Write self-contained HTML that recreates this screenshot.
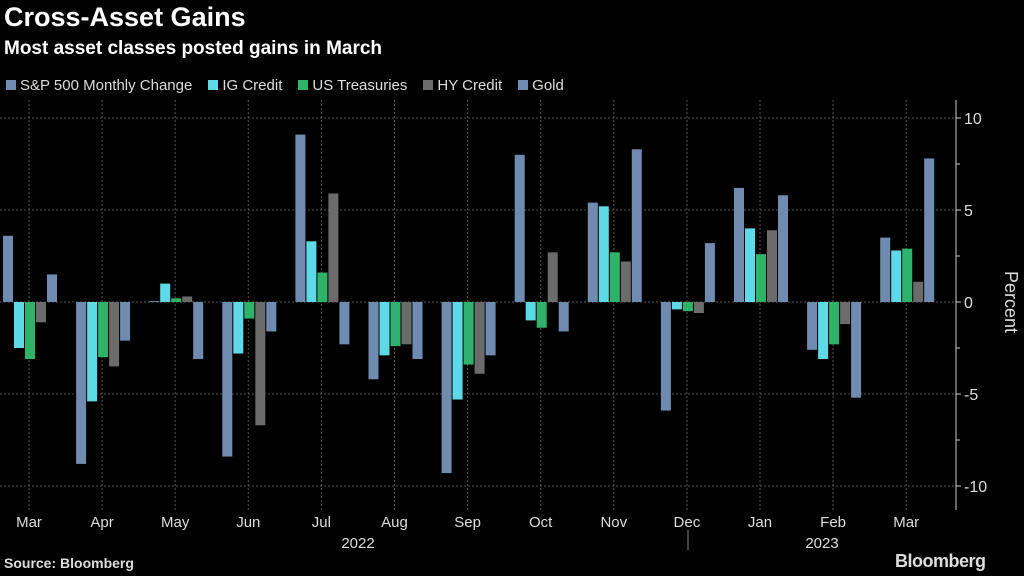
<!DOCTYPE html>
<html><head><meta charset="utf-8">
<style>
html,body{margin:0;padding:0;background:#000;width:1024px;height:576px;overflow:hidden;font-family:"Liberation Sans","DejaVu Sans",sans-serif;color:#fff}
.t{position:absolute;white-space:nowrap}
</style></head><body>
<div class="t" style="left:4px;top:2px;font-size:27px;font-weight:bold">Cross-Asset Gains</div>
<div class="t" style="left:4px;top:38px;font-size:19px;font-weight:bold">Most asset classes posted gains in March</div>
<div id="legend" style="position:absolute;left:6px;top:77px;font-size:15px;color:#ddd;display:flex;gap:16px"></div>
<svg id="chart" width="1024" height="576" style="position:absolute;left:0;top:0"></svg>
<div class="t" style="left:4px;top:555px;font-size:14px;font-weight:bold;color:#ddd">Source: Bloomberg</div>
<div class="t" style="left:895px;top:551px;font-size:18px;font-weight:bold;color:#ddd;letter-spacing:-0.5px">Bloomberg</div>
<script>
const months=["Mar","Apr","May","Jun","Jul","Aug","Sep","Oct","Nov","Dec","Jan","Feb","Mar"];
const seriesNames=["S&P 500 Monthly Change","IG Credit","US Treasuries","HY Credit","Gold"];
const spx=[3.6,-8.8,0.05,-8.4,9.1,-4.2,-9.3,8.0,5.4,-5.9,6.2,-2.6,3.5];
const ig=[-2.5,-5.4,1.0,-2.8,3.3,-2.9,-5.3,-1.0,5.2,-0.4,4.0,-3.1,2.8];
const ust=[-3.1,-3.0,0.2,-0.9,1.6,-2.4,-3.4,-1.4,2.7,-0.5,2.6,-2.3,2.9];
const hy=[-1.1,-3.5,0.3,-6.7,5.9,-2.3,-3.9,2.7,2.2,-0.6,3.9,-1.2,1.1];
const gold=[1.5,-2.1,-3.1,-1.6,-2.3,-3.1,-2.9,-1.6,8.3,3.2,5.8,-5.2,7.8];
const yTicks=[10,5,0,-5,-10];
const years=["2022","2023"];
const colors=["#6f8bb0","#5ed9e8","#2fb36a","#6b6b6b","#6f8bb0"];
const series=[spx,ig,ust,hy,gold];
const NS="http://www.w3.org/2000/svg";
const svg=document.getElementById('chart');
function y(v){return 302-v*18.4;}
function gx(i){return 29+i*73.1;}
function el(tag,attrs){const e=document.createElementNS(NS,tag);for(const k in attrs)e.setAttribute(k,attrs[k]);svg.appendChild(e);return e;}
const lg=document.getElementById('legend');
seriesNames.forEach((n,i)=>{const s=document.createElement('span');


s.innerHTML='<span style="display:inline-block;width:10px;height:10px;background:'+colors[i]+';margin-right:4px"></span>'+n.replace('&','&amp;');lg.appendChild(s);});
yTicks.forEach(t=>{const l=el('line',{x1:0,x2:956,y1:y(t),y2:y(t),stroke:'#555','stroke-dasharray':'2,2'});


const tk=el('line',{x1:956,x2:961,y1:y(t),y2:y(t),stroke:'#ccc'});


const tx=el('text',{x:964,y:y(t)+6,fill:'#ddd','font-size':16,'font-family':'Liberation Sans, sans-serif'});
tx.textContent=t;

});
[7.5,2.5,-2.5,-7.5].forEach(t=>{const m=el('line',{x1:956,x2:960,y1:y(t),y2:y(t),stroke:'#ccc'});

});
months.forEach((m,i)=>{const l=el('line',{x1:gx(i),x2:gx(i),y1:100,y2:510,stroke:'#555','stroke-dasharray':'2,2'});


const tx=el('text',{x:gx(i),y:527,fill:'#ddd','font-size':15,'text-anchor':'middle','font-family':'Liberation Sans, sans-serif'});
tx.textContent=m;

});
series.forEach((s,si)=>{s.forEach((v,i)=>{const x=gx(i)-26+si*11;
const b=el('rect',{x:x,y:Math.min(y(v),y(0)),width:10,height:Math.max(Math.abs(y(v)-y(0)),0.5),fill:colors[si]});

});});
const ax=el('line',{x1:956,x2:956,y1:100,y2:510,stroke:'#ccc'});


const yt=el('text',{x:1005,y:302,fill:'#ddd','font-size':18,'text-anchor':'middle',transform:'rotate(90 1005 302)','font-family':'Liberation Sans, sans-serif'});
yt.textContent='Percent';


[[358,years[0]],[822,years[1]]].forEach(p=>{const t=el('text',{x:p[0],y:548,fill:'#ddd','font-size':15,'text-anchor':'middle','font-family':'Liberation Sans, sans-serif'});
t.textContent=p[1];

});
const sep=el('line',{x1:688,x2:688,y1:530,y2:550,stroke:'#888'});


</script>
</body></html>
